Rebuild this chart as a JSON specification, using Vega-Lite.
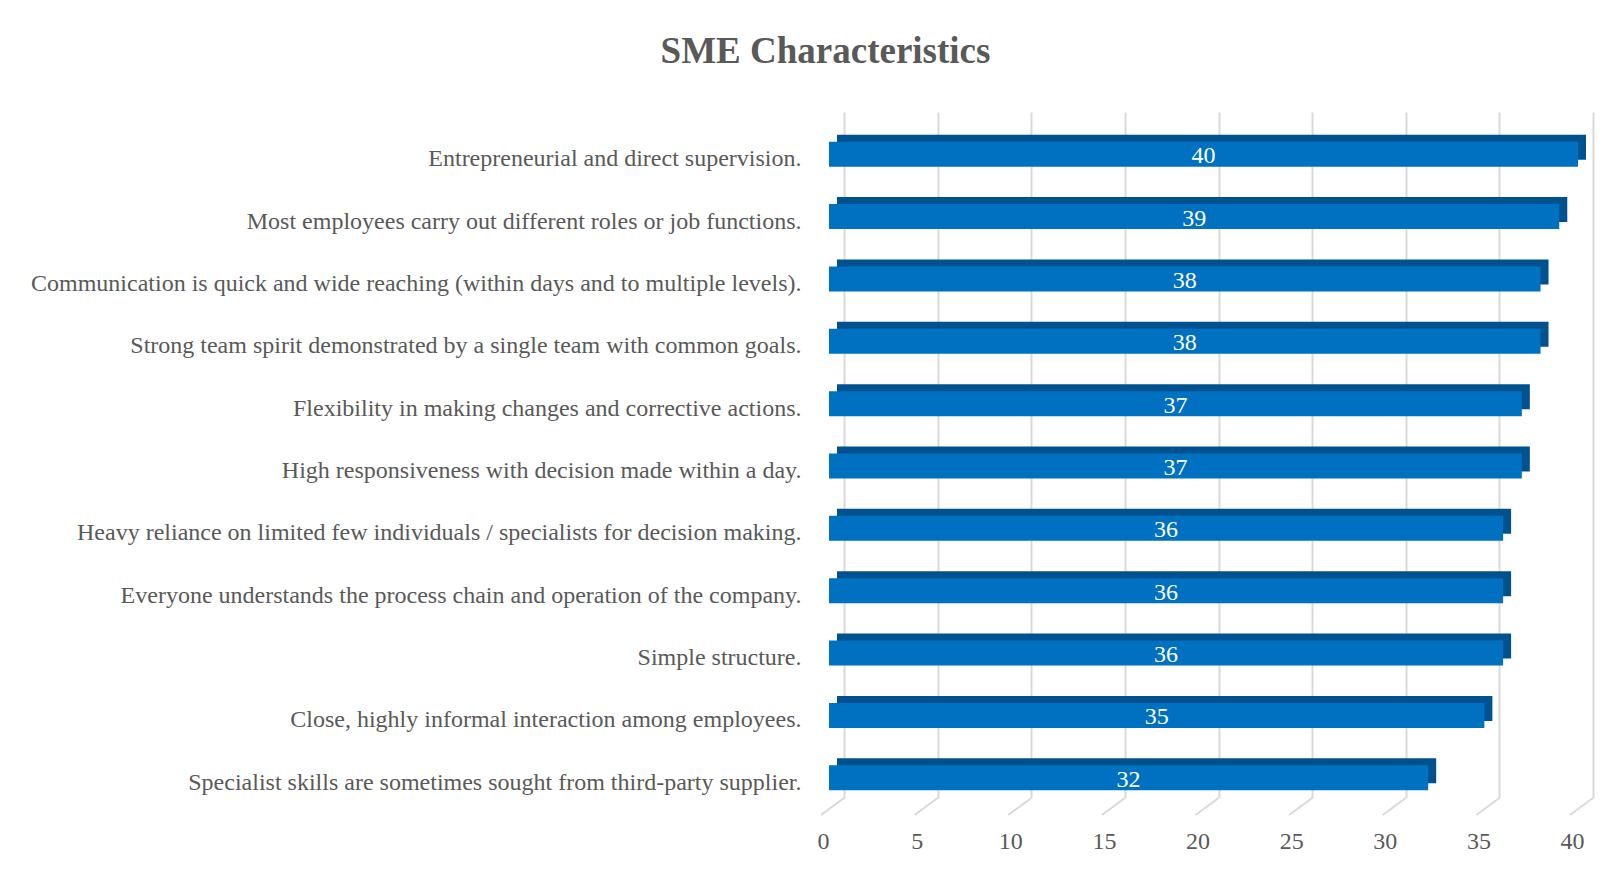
{
  "$schema": "https://vega.github.io/schema/vega-lite/v6.json",
  "autosize": {"type": "none"},
  "width": 749,
  "height": 686,
  "padding": {"left": 844, "top": 112, "right": 29, "bottom": 77},
  "background": "white",
  "title": {
    "text": "SME Characteristics",
    "font": "Liberation Serif",
    "fontSize": 37,
    "fontWeight": "bold",
    "color": "#595959",
    "anchor": "middle",
    "frame": "group",
    "dx": -393,
    "offset": 41
  },
  "datasets": {
    "bars": [
      {"label": "Entrepreneurial and direct supervision.", "value": 40},
      {"label": "Most employees carry out different roles or job functions.", "value": 39},
      {"label": "Communication is quick and wide reaching (within days and to multiple levels).", "value": 38},
      {"label": "Strong team spirit demonstrated by a single team with common goals.", "value": 38},
      {"label": "Flexibility in making changes and corrective actions.", "value": 37},
      {"label": "High responsiveness with decision made within a day.", "value": 37},
      {"label": "Heavy reliance on limited few individuals / specialists for decision making.", "value": 36},
      {"label": "Everyone understands the process chain and operation of the company.", "value": 36},
      {"label": "Simple structure.", "value": 36},
      {"label": "Close, highly informal interaction among employees.", "value": 35},
      {"label": "Specialist skills are sometimes sought from third-party supplier.", "value": 32}
    ],
    "ticks": [{"t": 0}, {"t": 5}, {"t": 10}, {"t": 15}, {"t": 20}, {"t": 25}, {"t": 30}, {"t": 35}, {"t": 40}]
  },
  "resolve": {"scale": {"x": "independent"}, "axis": {"x": "independent"}},
  "encoding": {
    "y": {
      "field": "label",
      "type": "nominal",
      "sort": null,
      "scale": {"paddingInner": 0, "paddingOuter": 0},
      "axis": {
        "title": null,
        "domain": false,
        "ticks": false,
        "grid": false,
        "labelPadding": 43,
        "labelOffset": 16,
        "labelLimit": 0,
        "labelFont": "Liberation Serif",
        "labelFontSize": 24,
        "labelColor": "#595959"
      }
    }
  },
  "layer": [
    {
      "data": {"name": "bars"},
      "mark": {"type": "bar", "color": "#00528f", "size": 25, "xOffset": -7, "x2Offset": -7, "yOffset": 4},
      "encoding": {
        "x": {"field": "value", "type": "quantitative", "scale": {"domain": [0, 40], "nice": false}, "axis": null},
        "x2": {"datum": 0}
      }
    },
    {
      "data": {"name": "bars"},
      "mark": {"type": "bar", "color": "#0070c0", "size": 25, "xOffset": -15, "x2Offset": -15, "yOffset": 11},
      "encoding": {
        "x": {
          "field": "value",
          "type": "quantitative",
          "scale": {"domain": [0, 40], "nice": false},
          "axis": {
            "title": null,
            "values": [0, 5, 10, 15, 20, 25, 30, 35, 40],
            "grid": true,
            "gridColor": "#d9d9d9",
            "gridWidth": 2,
            "ticks": false,
            "domain": false,
            "labelFlush": false,
            "labelOffset": -21,
            "labelPadding": 31,
            "labelFont": "Liberation Serif",
            "labelFontSize": 24,
            "labelColor": "#595959"
          }
        },
        "x2": {"datum": 0}
      }
    },
    {
      "data": {"name": "bars"},
      "mark": {"type": "text", "color": "white", "font": "Liberation Serif", "fontSize": 24, "baseline": "middle", "align": "center", "xOffset": -15, "yOffset": 13},
      "encoding": {
        "x": {"field": "value", "type": "quantitative", "scale": {"domain": [0, 80], "nice": false}, "axis": null},
        "text": {"field": "value", "type": "quantitative"}
      }
    },
    {
      "data": {"name": "ticks"},
      "mark": {"type": "rule", "color": "#d9d9d9", "strokeWidth": 2, "x2Offset": -23, "y2Offset": 17},
      "encoding": {
        "x": {"field": "t", "type": "quantitative", "scale": {"domain": [0, 40], "nice": false}, "axis": null},
        "x2": {"field": "t"},
        "y": {"datum": "Specialist skills are sometimes sought from third-party supplier.", "type": "nominal", "bandPosition": 1},
        "y2": {"datum": "Specialist skills are sometimes sought from third-party supplier.", "bandPosition": 1}
      }
    }
  ],
  "config": {"view": {"stroke": null}}
}
